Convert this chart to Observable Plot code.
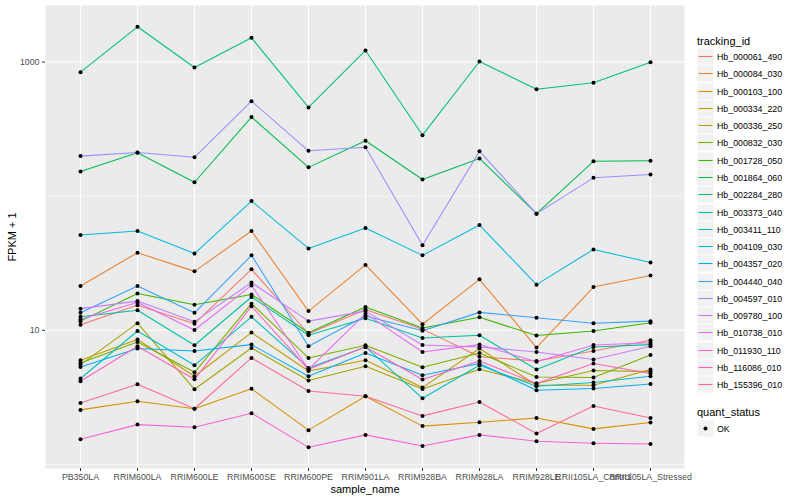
<!DOCTYPE html>
<html><head><meta charset="utf-8">
<script src="https://cdn.jsdelivr.net/npm/d3@7"></script>
<script src="https://cdn.jsdelivr.net/npm/@observablehq/plot@0.6"></script>
<style>
body{margin:0;background:#fff;font-family:"Liberation Sans",Arial,sans-serif;}
#wrap{position:relative;width:800px;height:500px;overflow:hidden;}
#legend{position:absolute;left:697px;top:0;width:103px;}
.ltitle{position:absolute;left:0;font-size:11px;line-height:14px;color:#000;white-space:nowrap;}
.lrow{position:absolute;left:0;height:17px;display:flex;align-items:center;white-space:nowrap;}
.lrow svg{display:block;}
.llab{font-size:8.8px;margin-left:3px;color:#000;}
</style></head><body><div id="wrap"><div id="legend"></div></div>
<script>
const samples = ["PB350LA","RRIM600LA","RRIM600LE","RRIM600SE","RRIM600PE","RRIM901LA","RRIM928BA","RRIM928LA","RRIM928LE","RRII105LA_Control","RRII105LA_Stressed"];
const trackingIds = ["Hb_000061_490","Hb_000084_030","Hb_000103_100","Hb_000334_220","Hb_000336_250","Hb_000832_030","Hb_001728_050","Hb_001864_060","Hb_002284_280","Hb_003373_040","Hb_003411_110","Hb_004109_030","Hb_004357_020","Hb_004440_040","Hb_004597_010","Hb_009780_100","Hb_010738_010","Hb_011930_110","Hb_116086_010","Hb_155396_010"];
const colors = ["#F8766D","#EA8331","#D89000","#C09B00","#A3A500","#7CAE00","#39B600","#00BB4E","#00BF7D","#00C1A3","#00BFC4","#00BAE0","#00B0F6","#35A2FF","#9590FF","#C77CFF","#E76BF3","#FA62DB","#FF62BC","#FF6C91"];
const yTicks = [10, 1000];
const yMinor = [1, 100];
const statuses = ["OK"];

// FPKM + 1 per sample, in sample order
const hb000061_490 = [11.0, 15.4, 11.2, 28.5, 9.42, 14.3, 10.2, 6.35, 5.90, 7.01, 8.42];
const hb000084_030 = [21.4, 37.9, 27.5, 55.0, 13.9, 30.7, 11.1, 24.0, 7.43, 21.0, 25.6];
const hb000103_100 = [2.55, 2.96, 2.60, 3.66, 1.80, 3.22, 1.93, 2.06, 2.22, 1.84, 2.05];
const hb000334_220 = [5.98, 8.53, 4.54, 9.61, 4.97, 5.98, 3.74, 7.31, 3.89, 3.89, 5.10];
const hb000336_250 = [5.55, 11.3, 3.63, 7.38, 4.22, 5.39, 3.65, 5.12, 4.01, 5.01, 4.92];
const hb000832_030 = [5.71, 8.18, 4.86, 15.8, 6.22, 7.73, 5.30, 6.77, 4.49, 4.44, 6.55];
const hb001728_050 = [11.7, 18.8, 15.5, 18.5, 9.58, 14.9, 10.4, 12.5, 9.13, 9.88, 11.4];
const hb001864_060 = [153, 211, 127, 389, 164, 259, 133, 191, 74.1, 182, 184];
const hb002284_280 = [841, 1832, 911, 1517, 459, 1220, 285, 1010, 628, 701, 998];
const hb003373_040 = [12.6, 14.1, 7.73, 17.7, 9.18, 12.3, 8.76, 9.18, 5.10, 7.51, 7.82];
const hb003411_110 = [4.37, 9.88, 5.48, 12.6, 5.24, 7.51, 3.11, 5.48, 3.83, 4.08, 4.54];
const hb004109_030 = [51.3, 55.0, 37.3, 91.9, 40.8, 57.9, 36.2, 60.9, 21.9, 40.1, 32.0];
const hb004357_020 = [5.33, 7.31, 7.01, 7.82, 4.54, 6.77, 4.62, 5.65, 3.57, 3.68, 3.98];
const hb004440_040 = [13.5, 21.4, 13.5, 36.2, 7.60, 12.8, 9.91, 13.6, 12.4, 11.3, 11.7];
const hb004597_010 = [199, 212, 195, 511, 218, 232, 43.0, 216, 74.1, 137, 145];
const hb009780_100 = [14.5, 16.5, 11.6, 22.7, 11.7, 13.9, 7.77, 7.51, 6.89, 6.05, 7.60];
const hb010738_010 = [12.1, 16.1, 10.05, 21.6, 5.12, 13.3, 6.89, 7.82, 5.82, 7.77, 8.07];
const hb011930_110 = [1.54, 1.98, 1.89, 2.41, 1.34, 1.66, 1.37, 1.66, 1.49, 1.44, 1.42];
const hb116086_010 = [4.17, 7.60, 4.31, 15.1, 5.12, 7.51, 4.29, 5.90, 4.01, 5.65, 4.76];
const hb155396_010 = [2.87, 3.96, 2.60, 6.22, 3.53, 3.22, 2.30, 2.92, 1.70, 2.73, 2.22];

const seriesValues = [hb000061_490, hb000084_030, hb000103_100, hb000334_220, hb000336_250, hb000832_030, hb001728_050, hb001864_060, hb002284_280, hb003373_040, hb003411_110, hb004109_030, hb004357_020, hb004440_040, hb004597_010, hb009780_100, hb010738_010, hb011930_110, hb116086_010, hb155396_010];

const rows = [];
trackingIds.forEach((id, i) => seriesValues[i].forEach((v, j) => rows.push({id, sample: samples[j], value: v, status: statuses[0]})));

const font = "Liberation Sans, Arial, sans-serif";
const chart = Plot.plot({
  width: 800, height: 500,
  marginLeft: 45, marginRight: 116, marginTop: 5, marginBottom: 32,
  style: {fontFamily: font, background: "white", overflow: "visible"},
  x: {type: "point", domain: samples, padding: 0.6, label: null},
  y: {type: "log", domain: [0.932, 2641], label: null},
  color: {domain: trackingIds, range: colors},
  marks: [
    Plot.frame({fill: "#EBEBEB", stroke: null}),
    Plot.ruleY(yMinor, {stroke: "white", strokeWidth: 0.55}),
    Plot.ruleY(yTicks, {stroke: "white", strokeWidth: 1.1}),
    Plot.ruleX(samples, {stroke: "white", strokeWidth: 1.1}),
    Plot.line(rows, {x: "sample", y: "value", z: "id", stroke: "id", strokeWidth: 1.07, strokeLinejoin: "round"}),
    Plot.dot(rows, {x: "sample", y: "value", r: 2, fill: "black", stroke: null}),
    Plot.axisX({tickSize: 3, tickPadding: 2, fontSize: 8.8, stroke: "#333333", fill: "#4D4D4D", label: null}),
    Plot.axisY({ticks: yTicks, tickFormat: d => String(d), tickSize: 3, tickPadding: 3, fontSize: 8.8, stroke: "#333333", fill: "#4D4D4D", label: null}),
    Plot.text(["sample_name"], {frameAnchor: "bottom", dy: 21, fontSize: 11, fill: "black", textAnchor: "middle", lineAnchor: "middle"}),
    Plot.text(["FPKM + 1"], {frameAnchor: "left", dx: -33, rotate: -90, fontSize: 11, fill: "black", textAnchor: "middle", lineAnchor: "middle"})
  ]
});
document.getElementById("wrap").prepend(chart);

// legend
const lg = document.getElementById("legend");
const title = document.createElement("div");
title.className = "ltitle"; title.style.top = "33.5px"; title.textContent = "tracking_id";
lg.appendChild(title);
trackingIds.forEach((id, i) => {
  const r = document.createElement("div");
  r.className = "lrow"; r.style.top = Math.round(48 + i * 17.28) + "px";
  r.innerHTML = `<svg width="17" height="17"><rect x="0" y="0" width="17" height="17" fill="#F2F2F2" stroke="#fff" stroke-width="1"/><line x1="1.5" x2="15.5" y1="8.5" y2="8.5" stroke="${colors[i]}" stroke-width="1.1"/></svg><span class="llab">${id}</span>`;
  lg.appendChild(r);
});
const t2 = document.createElement("div");
t2.className = "ltitle"; t2.style.top = "405px"; t2.textContent = "quant_status";
lg.appendChild(t2);
statuses.forEach((s, i) => {
  const r = document.createElement("div");
  r.className = "lrow"; r.style.top = (420 + i * 17) + "px";
  r.innerHTML = `<svg width="17" height="17"><rect x="0" y="0" width="17" height="17" fill="#F2F2F2" stroke="#fff" stroke-width="1"/><circle cx="8.5" cy="8.5" r="2" fill="#000"/></svg><span class="llab">${s}</span>`;
  lg.appendChild(r);
});
</script></body></html>
